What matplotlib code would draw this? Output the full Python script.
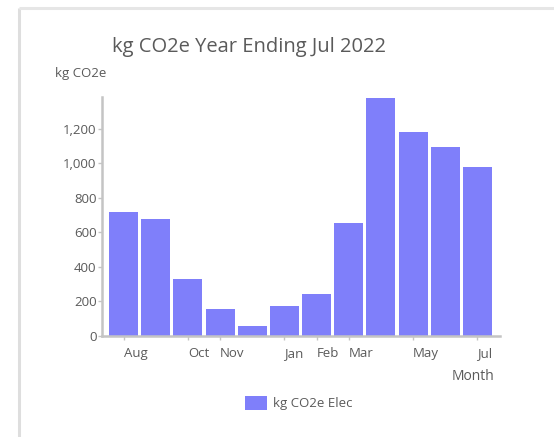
import matplotlib
matplotlib.use("Agg")
import matplotlib.pyplot as plt
from matplotlib.lines import Line2D
from matplotlib.ticker import FuncFormatter

# Data
months = ["Aug", "Sep", "Oct", "Nov", "Dec", "Jan", "Feb", "Mar", "Apr", "May", "Jun", "Jul"]
co2_elec = [718, 677, 330, 156, 58, 176, 242, 653, 1378, 1184, 1097, 978]
shown_ticks = ["Aug", "Oct", "Nov", "Jan", "Feb", "Mar", "May", "Jul"]
y_ticks = [0, 200, 400, 600, 800, 1000, 1200]

plt.rcParams['font.family'] = ['Open Sans', 'DejaVu Sans']
txt_col = "#5a5a5a"
axis_col = "#c4c4c4"
bar_col = "#7f7ffa"

fig = plt.figure(figsize=(5.54, 4.37), dpi=100)
fig.patch.set_facecolor("white")

# card border
fig.add_artist(Line2D([19 / 554, 19 / 554], [0, 1 - 8 / 437], color="#dedede", lw=2.2,
                      solid_capstyle="butt", transform=fig.transFigure))
fig.add_artist(Line2D([19 / 554, 1], [1 - 8 / 437, 1 - 8 / 437], color="#e6e6e6", lw=2.2,
                      solid_capstyle="butt", transform=fig.transFigure))

ax = fig.add_axes([102 / 554, 1 - 336 / 437, 398 / 554, 239 / 437])
x = list(range(len(months)))
ax.bar(x, co2_elec, width=0.9, color=bar_col, label="kg CO2e Elec", zorder=2)

ax.set_xlim(-0.67, 11.7)
ax.set_ylim(0, 1385)
ax.set_xticks([months.index(m) for m in shown_ticks])
ax.set_xticklabels(shown_ticks)
for lab in ax.get_xticklabels():
    lab.set_ha("left")
ax.set_yticks(y_ticks)
ax.yaxis.set_major_formatter(FuncFormatter(lambda v, p: f"{int(v):,}"))

for s in ["top", "right"]:
    ax.spines[s].set_visible(False)
for s in ["left", "bottom"]:
    ax.spines[s].set_color(axis_col)
    ax.spines[s].set_linewidth(1.8)
ax.tick_params(axis="both", colors=axis_col, labelcolor=txt_col, labelsize=9.5, length=3, width=1)
ax.tick_params(axis="x", pad=5)
ax.tick_params(axis="y", pad=1)

fig.text(249 / 554, 1 - 47 / 437, "kg CO2e Year Ending Jul 2022", ha="center", va="center",
         fontsize=14.5, color=txt_col)
fig.text(55 / 554, 1 - 73 / 437, "kg CO2e", ha="left", va="center", fontsize=9.5, color=txt_col)
fig.text(473 / 554, 1 - 376 / 437, "Month", ha="center", va="center", fontsize=10, color=txt_col)

fig.legend(loc="center", bbox_to_anchor=(299 / 554, 1 - 403 / 437), frameon=False,
           fontsize=9.5, handlelength=1.6, handleheight=1.3, handletextpad=0.5,
           labelcolor=txt_col)

fig.savefig("out.png", dpi=100)
